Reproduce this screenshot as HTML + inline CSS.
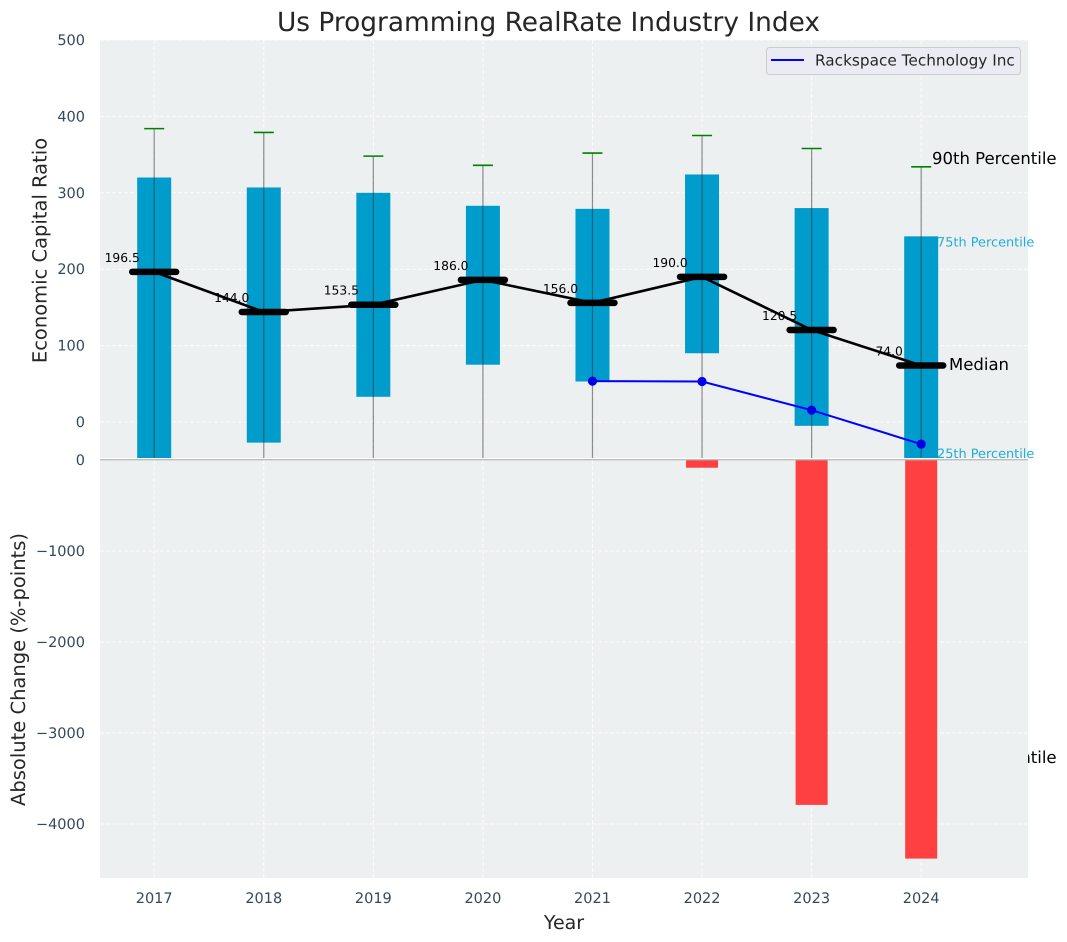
<!DOCTYPE html>
<html>
<head>
<meta charset="utf-8">
<title>Us Programming RealRate Industry Index</title>
<style>
html,body{margin:0;padding:0;background:#fff;}
svg{display:block;font-family:"DejaVu Sans","Liberation Sans",sans-serif;text-rendering:geometricPrecision;}
</style>
</head>
<body>
<svg id="chart" width="1067" height="942" viewBox="0 0 1067 942" xmlns="http://www.w3.org/2000/svg">
<defs>
<clipPath id="topClip"><rect x="100" y="40" width="928" height="418"/></clipPath>
<clipPath id="bottomClip"><rect x="100" y="460" width="928" height="418"/></clipPath>
</defs>
</svg>
<script>
const years = [2017, 2018, 2019, 2020, 2021, 2022, 2023, 2024];
const p90 = [384, 379, 348, 336, 352, 375, 358, 334];
const p75 = [320, 307, 300, 283, 279, 324, 280, 243];
const medians = [196.5, 144, 153.5, 186, 156, 190, 120.5, 74];
const p25 = [-60, -27, 33, 75, 53, 90, -5, -60];
const p10 = [-300, -200, -150, -120, -100, -90, -200, -437];
const companyYears = [2021, 2022, 2023, 2024];
const companyValues = [53.5, 53, 15.5, -29];
const changeYears = [2022, 2023, 2024];
const changeValues = [-85, -3790, -4380];
const topTicks = [0, 100, 200, 300, 400, 500];
const bottomTicks = [0, -1000, -2000, -3000, -4000];

const svg = document.getElementById('chart');
const NS = 'http://www.w3.org/2000/svg';
function x(year) { return 154.2 + (year - 2017) * 109.57; }
function yTop(v) { return 422 - v * 0.764; }
function yBottom(v) { return 460 - v * 0.091; }
function make(tag, attrs, parent, text) {
  const el = document.createElementNS(NS, tag);
  for (const k in attrs) el.setAttribute(k, attrs[k]);
  if (text !== undefined) el.textContent = text;
  (parent || svg).appendChild(el);
  return el;
}
function lbl(el, name, interactable) {
  
  
  return el;
}
const tickColor = '#34495e';
const inkColor = '#262626';

/* top axes background */
lbl(make('rect', {x:100, y:40, width:928, height:418, fill:'#ecf0f1'}), 'top-plot-background');

/* top grid */
topTicks.forEach(t => {
  lbl(make('line', {x1:100, x2:1028, y1:yTop(t), y2:yTop(t), stroke:'#fff', 'stroke-width':1, 'stroke-dasharray':'4 2', opacity:0.85}), 'top-grid-line-y');
  lbl(make('text', {x:85, y:yTop(t)+5, 'text-anchor':'end', 'font-size':14.5, fill:tickColor}, null, String(t)), 'top-y-tick-label');
});
years.forEach(yr => {
  lbl(make('line', {x1:x(yr), x2:x(yr), y1:40, y2:458, stroke:'#fff', 'stroke-width':1, 'stroke-dasharray':'4 2', opacity:0.85}), 'top-grid-line-x');
});

const topG = lbl(make('g', {'clip-path':'url(#topClip)'}), 'top-plot-marks');

/* IQR bars */
years.forEach((yr, i) => {
  lbl(make('rect', {x:x(yr)-17, y:yTop(p75[i]), width:34, height:yTop(p25[i])-yTop(p75[i]), fill:'#009ccc'}, topG), 'iqr-bar-' + yr);
});
/* whiskers */
years.forEach((yr, i) => {
  lbl(make('line', {x1:x(yr), x2:x(yr), y1:yTop(p90[i]), y2:yTop(p10[i]), stroke:'#333', 'stroke-opacity':0.55, 'stroke-width':1.2}, topG), 'whisker-' + yr);
  lbl(make('line', {x1:x(yr)-10, x2:x(yr)+10, y1:yTop(p90[i]), y2:yTop(p90[i]), stroke:'#008000', 'stroke-width':1.6}, topG), 'whisker-cap-' + yr);
});
/* median value labels, beneath the median line */
years.forEach((yr, i) => {
  lbl(make('text', {x:x(yr)-32, y:yTop(medians[i])-10, 'text-anchor':'middle', 'font-size':12.3, fill:'#000'}, topG, medians[i].toFixed(1)), 'median-value-' + yr);
});
/* median line */
lbl(make('polyline', {points:years.map((yr, i) => x(yr) + ',' + yTop(medians[i])).join(' '), fill:'none', stroke:'#000', 'stroke-width':2.6}, topG), 'median-trend-line');
years.forEach((yr, i) => {
  lbl(make('line', {x1:x(yr)-22, x2:x(yr)+22, y1:yTop(medians[i]), y2:yTop(medians[i]), stroke:'#000', 'stroke-width':6.5, 'stroke-linecap':'round'}, topG), 'median-marker-' + yr);
});
/* company series */
lbl(make('polyline', {points:companyYears.map((yr, i) => x(yr) + ',' + yTop(companyValues[i])).join(' '), fill:'none', stroke:'#0000ff', 'stroke-width':2}, topG), 'rackspace-line');
companyYears.forEach((yr, i) => {
  lbl(make('circle', {cx:x(yr), cy:yTop(companyValues[i]), r:4.6, fill:'#0000e6'}, topG), 'rackspace-point-' + yr);
});

/* percentile annotations, drawn for the last year */
const last = years.length - 1;
lbl(make('text', {x:932, y:yTop(p90[last])-3, 'font-size':16.5, fill:'#000'}, null, '90th Percentile'), 'annotation-90th-percentile');
lbl(make('text', {x:937, y:yTop(p75[last])+10, 'font-size':12.9, fill:'#00a0d0', 'fill-opacity':0.85}, null, '75th Percentile'), 'annotation-75th-percentile');
lbl(make('text', {x:949, y:yTop(medians[last])+4.5, 'font-size':16.5, fill:'#000'}, null, 'Median'), 'annotation-median');
lbl(make('text', {x:937, y:458, 'font-size':12.9, fill:'#00a0d0', 'fill-opacity':0.85}, null, '25th Percentile'), 'annotation-25th-percentile');
lbl(make('text', {x:932, y:yTop(p10[last])+7, 'font-size':16.5, fill:'#000'}, null, '10th Percentile'), 'annotation-10th-percentile');

/* legend */
const legend = lbl(make('g', {}), 'legend');
lbl(make('rect', {x:766.5, y:47.5, width:254, height:27, rx:3, fill:'#eaeaf2', 'fill-opacity':0.95, stroke:'#cccccc', 'stroke-width':1}, legend), 'legend-frame');
lbl(make('line', {x1:771, x2:804, y1:60, y2:60, stroke:'#0000ff', 'stroke-width':2}, legend), 'legend-line-swatch');
lbl(make('text', {x:815, y:65.5, 'font-size':15.3, fill:inkColor}, legend, 'Rackspace Technology Inc'), 'legend-label');

/* bottom axes: opaque, hides the part of the 10th percentile text inside it */
lbl(make('rect', {x:100, y:460, width:928, height:418, fill:'#ecf0f1'}), 'bottom-plot-background');
bottomTicks.forEach(t => {
  if (t !== 0) {
    lbl(make('line', {x1:100, x2:1028, y1:yBottom(t), y2:yBottom(t), stroke:'#fff', 'stroke-width':1, 'stroke-dasharray':'4 2', opacity:0.85}), 'bottom-grid-line-y');
  }
  lbl(make('text', {x:85, y:yBottom(t)+5, 'text-anchor':'end', 'font-size':14.5, fill:tickColor}, null, String(t).replace('-', '\u2212')), 'bottom-y-tick-label');
});
years.forEach(yr => {
  lbl(make('line', {x1:x(yr), x2:x(yr), y1:460, y2:878, stroke:'#fff', 'stroke-width':1, 'stroke-dasharray':'4 2', opacity:0.85}), 'bottom-grid-line-x');
  lbl(make('text', {x:x(yr), y:903, 'text-anchor':'middle', 'font-size':14.5, fill:tickColor}, null, String(yr)), 'x-tick-label');
});
const bottomG = lbl(make('g', {'clip-path':'url(#bottomClip)'}), 'bottom-plot-marks');
changeYears.forEach((yr, i) => {
  lbl(make('rect', {x:x(yr)-16, y:yBottom(0), width:32, height:yBottom(changeValues[i])-yBottom(0), fill:'#ff4040'}, bottomG), 'change-bar-' + yr);
});
lbl(make('line', {x1:100, x2:1028, y1:459.7, y2:459.7, stroke:'#bdbdbd', 'stroke-width':1.3}), 'zero-line');

/* titles */
lbl(make('text', {x:548.5, y:31, 'text-anchor':'middle', 'font-size':26.4, fill:inkColor}, null, 'Us Programming RealRate Industry Index'), 'chart-title');
lbl(make('text', {x:564, y:929, 'text-anchor':'middle', 'font-size':19, fill:inkColor}, null, 'Year'), 'x-axis-title');
lbl(make('text', {x:0, y:0, transform:'translate(46.5,250.5) rotate(-90)', 'text-anchor':'middle', 'font-size':19.5, fill:inkColor}, null, 'Economic Capital Ratio'), 'top-y-axis-title');
lbl(make('text', {x:0, y:0, transform:'translate(25,669.5) rotate(-90)', 'text-anchor':'middle', 'font-size':19.5, fill:inkColor}, null, 'Absolute Change (%-points)'), 'bottom-y-axis-title');
</script>
</body>
</html>
